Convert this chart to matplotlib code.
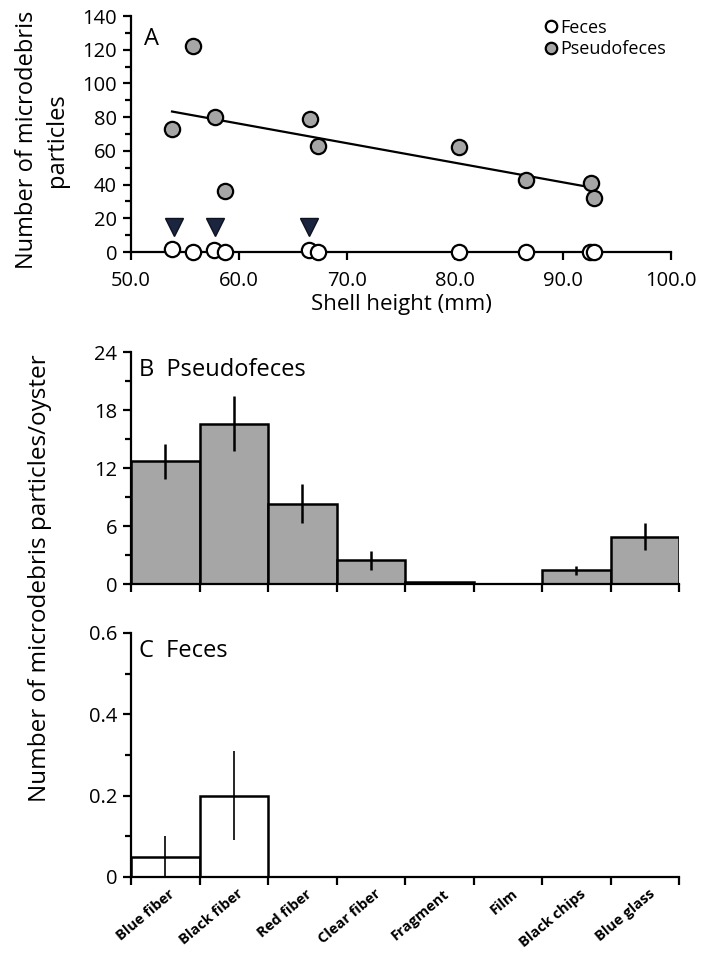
import matplotlib
matplotlib.use("Agg")
import matplotlib.pyplot as plt
import numpy as np
from matplotlib.ticker import MultipleLocator, FixedLocator

plt.rcParams['font.family'] = ['Open Sans', 'DejaVu Sans']

# ---- Panel A data ----
pseudo_x = [53.8, 55.7, 57.8, 58.7, 66.6, 67.3, 80.4, 86.6, 92.6, 92.9]
pseudo_y = [73, 122, 80, 36, 79, 63, 62, 43, 41, 32]
feces_x = [53.8, 55.7, 57.7, 58.7, 66.5, 67.3, 80.4, 86.6, 92.5, 92.9]
feces_y = [2, 0, 1, 0, 1, 0, 0, 0, 0, 0]
tri_x = [54.0, 57.8, 66.5]
tri_y = [15, 15, 15]

# ---- Panel B/C data ----
categories = ["Blue fiber", "Black fiber", "Red fiber", "Clear fiber",
              "Fragment", "Film", "Black chips", "Blue glass"]
pseudo_mean = [12.7, 16.6, 8.3, 2.45, 0.24, 0.05, 1.4, 4.9]
pseudo_err = [1.8, 2.85, 2.0, 0.95, 0, 0, 0.5, 1.4]
feces_mean = [0.05, 0.20, 0, 0, 0, 0, 0, 0]
feces_err = [0.05, 0.11, 0, 0, 0, 0, 0, 0]

GRAY = '#a6a6a6'
FS = 14.5
W, H = 714, 956
fig = plt.figure(figsize=(W / 100, H / 100), dpi=100)

def ax_rect(l, r, top, bot):
    return [l / W, 1 - bot / H, (r - l) / W, (bot - top) / H]

def style(ax):
    for s in ['top', 'right']:
        ax.spines[s].set_visible(False)
    for s in ['left', 'bottom']:
        ax.spines[s].set_linewidth(1.6)
    ax.tick_params(which='major', direction='out', length=6, width=1.6, labelsize=FS, pad=4)
    ax.tick_params(which='minor', direction='out', length=4.5, width=1.6)

# ---- Panel A ----
axA = fig.add_axes(ax_rect(131, 671, 16, 252))
style(axA)
axA.set_xlim(50, 100)
axA.set_ylim(0, 140)
axA.xaxis.set_major_locator(MultipleLocator(10))
axA.yaxis.set_major_locator(MultipleLocator(20))
axA.yaxis.set_minor_locator(MultipleLocator(10))
axA.set_xticklabels([f"{v:.1f}" for v in axA.get_xticks()])
axA.tick_params(axis='x', pad=8)
coef = np.polyfit(pseudo_x, pseudo_y, 1)
lx = np.array([min(pseudo_x), max(pseudo_x)])
axA.plot(lx, np.polyval(coef, lx), color='black', lw=1.6, zorder=2)
axA.plot(pseudo_x, pseudo_y, 'o', ms=11, mfc=GRAY, mec='black', mew=1.6,
         clip_on=False, zorder=3, label='Pseudofeces')
axA.plot(feces_x, feces_y, 'o', ms=11, mfc='white', mec='black', mew=1.6,
         clip_on=False, zorder=3, label='Feces')
axA.plot(tri_x, tri_y, 'v', ms=12.5, mfc='#1b2540', mec='#0d1220', mew=1, zorder=3)
h, l = axA.get_legend_handles_labels()
leg = axA.legend([h[1], h[0]], [l[1], l[0]], loc='upper right', frameon=False,
                 fontsize=13, handletextpad=0.0, handlelength=1.0,
                 borderaxespad=0.2, labelspacing=0.2, markerscale=0.75,
                 bbox_to_anchor=(1.01, 1.035))
axA.text(0.025, 0.955, 'A', transform=axA.transAxes, fontsize=17, va='top', ha='left')
axA.set_xlabel('Shell height (mm)', fontsize=16, labelpad=2)
fig.text(42 / W, 1 - 140 / H, 'Number of microdebris\nparticles', rotation=90,
         ha='center', va='center', fontsize=17, linespacing=1.35,
         multialignment='center')

# ---- Panel B / C ----
xpos = np.arange(len(categories)) + 0.5

def bar_panel(ax, vals, errs, color, ymax, major, minor, elw, title, fmt):
    style(ax)
    ax.bar(xpos, vals, width=1.0, color=color, edgecolor='black', linewidth=1.8, zorder=2)
    ax.errorbar(xpos, vals, yerr=errs, fmt='none', ecolor='black', elinewidth=elw,
                capsize=0, zorder=3)
    ax.set_xlim(0, len(categories))
    ax.set_ylim(0, ymax)
    ax.yaxis.set_major_locator(MultipleLocator(major))
    ax.yaxis.set_minor_locator(MultipleLocator(minor))
    ax.yaxis.set_major_formatter(fmt)
    ax.xaxis.set_major_locator(FixedLocator(np.arange(len(categories) + 1)))
    ax.set_xticklabels([])
    ax.text(0.015, 0.975, title, transform=ax.transAxes, fontsize=17, va='top', ha='left')

axB = fig.add_axes(ax_rect(131, 679, 352, 584))
bar_panel(axB, pseudo_mean, pseudo_err, GRAY, 24, 6, 3, 1.8, 'B  Pseudofeces',
          lambda v, p: f"{v:g}")
axC = fig.add_axes(ax_rect(131, 679, 633, 877))
bar_panel(axC, feces_mean, feces_err, 'white', 0.6, 0.2, 0.1, 1.2, 'C  Feces',
          lambda v, p: "0" if abs(v) < 1e-9 else f"{v:.1f}")
for x, lab in zip(xpos, categories):
    axC.text(x + 0.05, -0.04, lab, transform=axC.get_xaxis_transform(),
             rotation=40, ha='right', va='top', rotation_mode='anchor',
             fontsize=10.5, fontweight='bold')

fig.text(40 / W, 1 - 578 / H, 'Number of microdebris particles/oyster',
         rotation=90, ha='center', va='center', fontsize=17.5)

fig.savefig('out.png', dpi=100)
